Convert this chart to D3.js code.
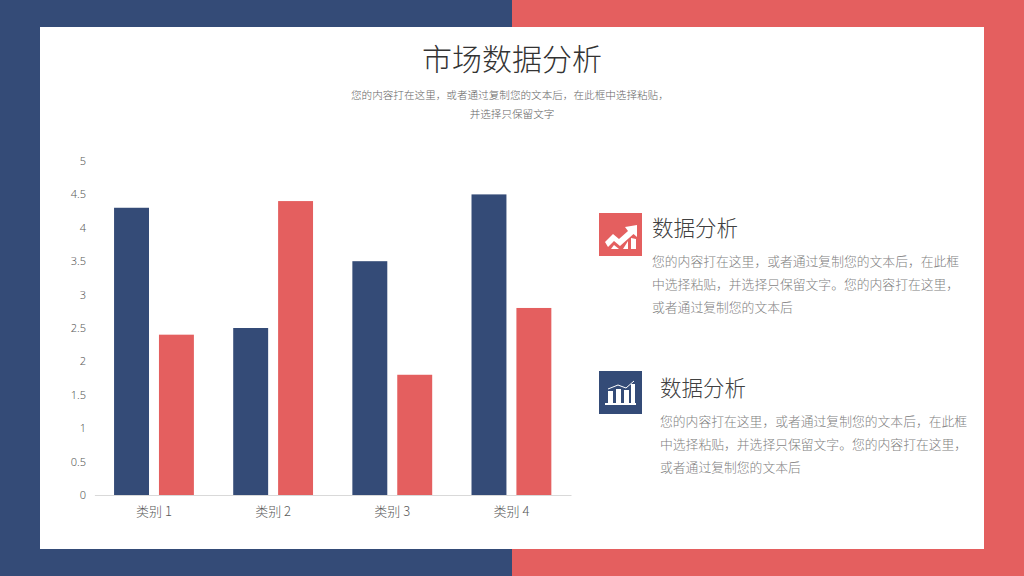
<!DOCTYPE html>
<html>
<head>
<meta charset="utf-8">
<script src="https://cdn.jsdelivr.net/npm/d3@7/dist/d3.min.js"></script>
<style>
    html, body { margin: 0; padding: 0; background: #fff; overflow: hidden; }
    svg { display: block; }
    text { font-family: "Noto Sans CJK SC", "Noto Sans", sans-serif; font-weight: 300; }
</style>
</head>
<body>
<div id="chart"></div>
<script>
const categories = ['类别 1', '类别 2', '类别 3', '类别 4'];
const seriesNames = ['系列 1', '系列 2'];
const series1 = [4.3, 2.5, 3.5, 4.5];
const series2 = [2.4, 4.4, 1.8, 2.8];
const yTicks = [0, 0.5, 1, 1.5, 2, 2.5, 3, 3.5, 4, 4.5, 5];
const titleText = '市场数据分析';
const subtitleLines = ['您的内容打在这里\uFF0C或者通过复制您的文本后\uFF0C在此框中选择粘贴\uFF0C', '并选择只保留文字'];
const blockTitle = '数据分析';
const blockLines = ['您的内容打在这里\uFF0C或者通过复制您的文本后\uFF0C在此框', '中选择粘贴\uFF0C并选择只保留文字。您的内容打在这里\uFF0C', '或者通过复制您的文本后'];

const navy = '#344b77';
const coral = '#e45f5f';

const svg = d3.select('#chart').append('svg')
    .attr('width', 1024)
    .attr('height', 576);

// background halves and white panel
svg.append('rect').attr('width', 512).attr('height', 576).attr('fill', navy);
svg.append('rect').attr('x', 512).attr('width', 512).attr('height', 576).attr('fill', coral);
svg.append('rect').attr('x', 40).attr('y', 27).attr('width', 944).attr('height', 522).attr('fill', '#fff');

// heading
svg.append('text')
    .attr('x', 512).attr('y', 69.5)
    .attr('text-anchor', 'middle')
    .style('font-size', '30px')
    .style('fill', '#333')
    .text(titleText);

svg.append('g').selectAll('text')
    .data(subtitleLines)
    .enter().append('text')
    .attr('x', (d, i) => i === 0 ? 351 : 512)
    .attr('y', (d, i) => 99 + i * 19)
    .attr('text-anchor', (d, i) => i === 0 ? 'start' : 'middle')
    .style('font-size', '10.6px')
    .style('fill', '#666')
    .text(d => d);

// chart
const x0 = d3.scaleBand()
    .domain(categories)
    .range([94.4, 571])
    .paddingInner(0.33)
    .paddingOuter(0.165);

const x1 = d3.scaleBand()
    .domain(seriesNames)
    .range([0, x0.bandwidth()])
    .paddingInner(0.222);

const y = d3.scaleLinear().domain([0, 5]).range([495, 161]);
const color = d3.scaleOrdinal().domain(seriesNames).range([navy, coral]);

const rows = categories.map((c, i) => ({
    category: c,
    values: [
        { name: seriesNames[0], value: series1[i] },
        { name: seriesNames[1], value: series2[i] }
    ]
}));

svg.append('g')
    .selectAll('g')
    .data(rows)
    .enter().append('g')
    .attr('transform', d => `translate(${x0(d.category)},0)`)
    .selectAll('rect')
    .data(d => d.values)
    .enter().append('rect')
    .attr('x', d => x1(d.name))
    .attr('y', d => y(d.value))
    .attr('width', x1.bandwidth())
    .attr('height', d => y(0) - y(d.value))
    .attr('fill', d => color(d.name));

const yAxis = svg.append('g')
    .attr('transform', 'translate(94,0)')
    .call(d3.axisLeft(y).tickValues(yTicks).tickFormat(d => d).tickSize(0).tickPadding(8));
yAxis.select('.domain').remove();
yAxis.selectAll('text').style('font-size', '11px').style('fill', '#595959')
    .style('font-family', '"Noto Sans", sans-serif');

const xAxis = svg.append('g')
    .attr('transform', 'translate(0,495)')
    .call(d3.axisBottom(x0).tickSize(0).tickPadding(12));
xAxis.select('.domain').attr('stroke', '#d9d9d9');
xAxis.selectAll('text').style('font-size', '13px').style('fill', '#595959');

// right text blocks
function drawBlock(iconX, iconY, textX, titleY, fill, drawIcon) {
    const g = svg.append('g');
    g.append('rect')
        .attr('x', iconX).attr('y', iconY)
        .attr('width', 43).attr('height', 43)
        .attr('fill', fill);
    drawIcon(g.append('g').attr('transform', `translate(${iconX},${iconY})`).attr('fill', '#fff'));
    g.append('text')
        .attr('x', textX).attr('y', titleY)
        .style('font-size', '21.5px')
        .style('fill', '#404040')
        .text(blockTitle);
    g.selectAll('text.line')
        .data(blockLines)
        .enter().append('text')
        .attr('class', 'line')
        .attr('x', textX)
        .attr('y', (d, i) => titleY + 30 + i * 23)
        .style('font-size', '12.8px')
        .style('fill', '#7f7f7f')
        .text(d => d);
}

function trendIcon(g) {
    g.append('path').attr('d', 'M6,29 L14,21 L20,26 L29,18 L26,14 L38,12 L38,24 L34.5,21 L21,33 L15,28 L9,34 Z');
    g.append('path').attr('d', 'M12,36 L15,32 L20,36 Z M24,36 L29,28 L29,36 Z M32,36 L32,25 L37,26 L37,36 Z');
}

function barsIcon(g) {
    g.append('rect').attr('x', 6).attr('y', 32).attr('width', 31).attr('height', 2);
    const poles = [[9, 20, 5], [17, 18, 5], [25, 19, 5], [32, 13, 4]];
    g.selectAll('rect.pole')
        .data(poles)
        .enter().append('rect')
        .attr('class', 'pole')
        .attr('x', d => d[0]).attr('y', d => d[1])
        .attr('width', d => d[2]).attr('height', d => 32 - d[1]);
    g.append('path')
        .attr('d', 'M9,18 L19,14 L27,17 L35,10')
        .attr('fill', 'none')
        .attr('stroke', '#fff')
        .attr('stroke-width', 1);
}

drawBlock(599, 213, 652, 236, coral, trendIcon);
drawBlock(599, 371, 660, 396, navy, barsIcon);
</script>
</body>
</html>
